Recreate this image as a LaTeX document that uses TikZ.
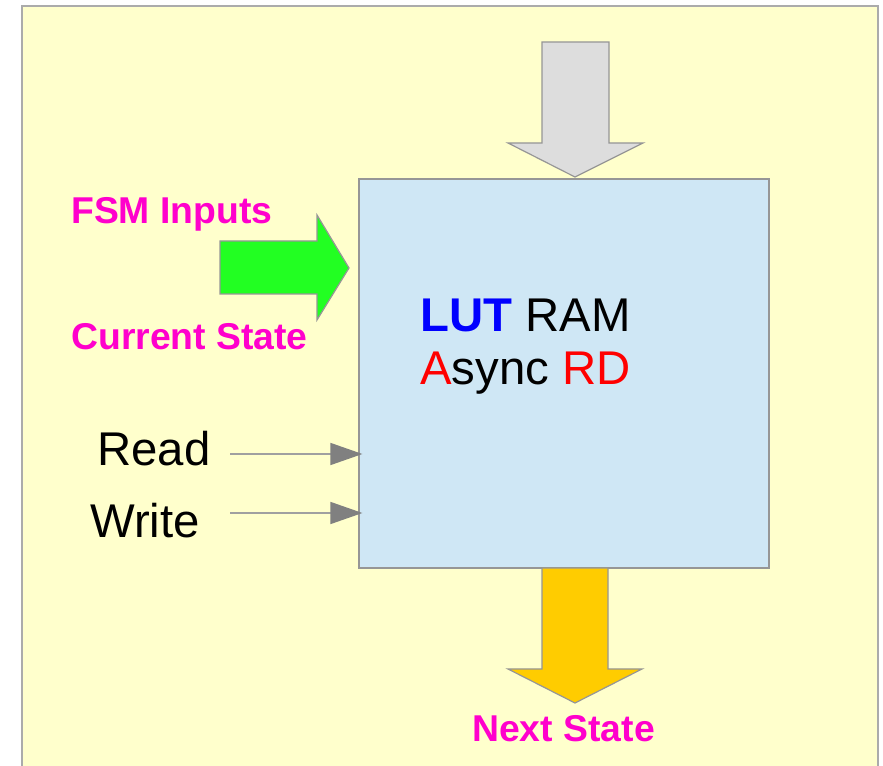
\documentclass[tikz,border=0pt]{standalone}
\usepackage{fontspec}
\setmainfont{Liberation Sans}
\usetikzlibrary{arrows.meta,positioning}

\definecolor{bgyellow}{RGB}{255,255,204}
\definecolor{lutblue}{RGB}{207,231,245}
\definecolor{fsmpink}{RGB}{255,0,204}
\definecolor{ingreen}{RGB}{34,255,34}
\definecolor{outgold}{RGB}{255,204,0}
\definecolor{topgray}{RGB}{221,221,221}
\definecolor{edgegray}{RGB}{150,150,150}
\definecolor{tipgray}{RGB}{128,128,128}

\tikzset{
  bigarrow/.style={draw=edgegray, line width=0.9pt, line join=miter},
  sig/.style={draw=edgegray!90, line width=1.1pt, -{Triangle[length=24pt,width=16.5pt,color=tipgray]}},
  pinklabel/.style={anchor=base west, inner sep=0pt, text=fsmpink, font=\fontsize{28}{33}\selectfont\bfseries},
  pinlabel/.style={anchor=base west, inner sep=0pt, font=\fontsize{35.5}{42}\selectfont},
  lutlabel/.style={anchor=base west, inner sep=0pt, font=\fontsize{35.5}{42}\selectfont}
}

\begin{document}
\begin{tikzpicture}[x=0.75pt,y=-0.75pt]
  \useasboundingbox (0,0) rectangle (883,766);
  \clip (0,0) rectangle (883,766);
  % background sheet
  \draw[fill=bgyellow, draw=edgegray!80, line width=1pt] (22,6) rectangle (878,800);
  % the LUT RAM block
  \node[draw=edgegray, fill=lutblue, line width=0.9pt, minimum width=307.5pt, minimum height=291.75pt, inner sep=0pt] (lut) at (564,373.5) {};
  \node[lutlabel] (lutram) at (420,331.5) {\textcolor{blue}{\bfseries LUT} RAM};
  \node[lutlabel] (async) at (420,385) {\textcolor{red}{A}sync \textcolor{red}{RD}};
  % top arrow (gray)
  \coordinate (T1) at (542,42);
  \coordinate (T2) at (609,42);
  \coordinate (T3) at (609,143);
  \coordinate (T4) at (643,143);
  \coordinate (T5) at (575,177);
  \coordinate (T6) at (508,143);
  \coordinate (T7) at (542,143);
  \draw[bigarrow, fill=topgray] (T1)--(T2)--(T3)--(T4)--(T5)--(T6)--(T7)--cycle;
  % left arrow (green)
  \coordinate (G1) at (220,241);
  \coordinate (G2) at (317,241);
  \coordinate (G3) at (317,215);
  \coordinate (G4) at (349,268);
  \coordinate (G5) at (317,320);
  \coordinate (G6) at (317,294);
  \coordinate (G7) at (220,294);
  \draw[bigarrow, fill=ingreen] (G1)--(G2)--(G3)--(G4)--(G5)--(G6)--(G7)--cycle;
  \node[pinklabel] (fsmin) at (71,223.5) {FSM Inputs};
  \node[pinklabel] (curst) at (71,349.5) {Current State};
  % bottom arrow (gold)
  \coordinate (B1) at (542,568);
  \coordinate (B2) at (608,568);
  \coordinate (B3) at (608,669);
  \coordinate (B4) at (642,669);
  \coordinate (B5) at (575,703);
  \coordinate (B6) at (508,669);
  \coordinate (B7) at (542,669);
  \draw[bigarrow, fill=outgold] (B1)--(B2)--(B3)--(B4)--(B5)--(B6)--(B7)--cycle;
  \node[pinklabel] (nextst) at (472,741.5) {Next State};
  % read / write lines
  \node[pinlabel] (read) at (97,466) {Read};
  \node[pinlabel] (write) at (90,538) {Write};
  \coordinate (rd) at (230,454);
  \coordinate (wr) at (230,513);
  \draw[sig] (rd) -- ([xshift=3pt]lut.west |- rd);
  \draw[sig] (wr) -- ([xshift=3pt]lut.west |- wr);
\end{tikzpicture}
\end{document}
